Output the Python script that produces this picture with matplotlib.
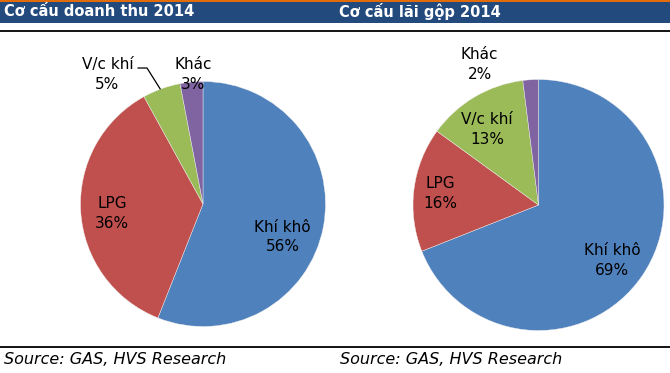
import matplotlib.pyplot as plt
import matplotlib.patches as mpatches

# data
categories = ['Khí khô', 'LPG', 'V/c khí', 'Khác']
revenue_2014 = [56, 36, 5, 3]
gross_profit_2014 = [69, 16, 13, 2]
titles = ['Cơ cấu doanh thu 2014', 'Cơ cấu lãi gộp 2014']
source = 'Source: GAS, HVS Research'

colors = ['#4F81BD', '#C0504D', '#9BBB59', '#8064A2']

W, H = 670, 373
fig = plt.figure(figsize=(W / 100, H / 100), dpi=100)
plt.rcParams['font.family'] = ['DejaVu Sans']


def px_axes(cx, cy, r):
    # axes box in figure fraction from pixel centre and radius
    return fig.add_axes([(cx - r) / W, 1 - (cy + r) / H, 2 * r / W, 2 * r / H])


# header bar, orange top line, black rules
bg = fig.add_axes([0, 0, 1, 1])
bg.set_xlim(0, W)
bg.set_ylim(H, 0)
bg.axis('off')
bg.add_patch(mpatches.Rectangle((0, 1.5), W, 21, color='#234A7D', lw=0))
bg.add_patch(mpatches.Rectangle((0, 0), W, 1.8, color='#E36C0A', lw=0))
bg.plot([0, W], [31, 31], color='black', lw=1.3)
bg.plot([0, W], [347, 347], color='black', lw=1.3)
bg.text(4, 12, titles[0], color='white', fontsize=10.5, fontweight='bold', va='center')
bg.text(339, 12, titles[1], color='white', fontsize=10.5, fontweight='bold', va='center')
bg.text(4, 359, source, fontsize=11.5, style='italic', va='center')
bg.text(340, 359, source, fontsize=11.5, style='italic', va='center')

panels = [
    (revenue_2014, (203, 204, 122.5),
     [(0.65, -0.27), (-0.74, -0.08), (-0.78, 1.06), (-0.08, 1.06)]),
    (gross_profit_2014, (538.5, 205, 125.5),
     [(0.585, -0.44), (-0.785, 0.09), (-0.41, 0.60), (-0.47, 1.12)]),
]

for i, (vals, (cx, cy, r), label_pos) in enumerate(panels):
    ax = px_axes(cx, cy, r)
    ax.pie(vals, colors=colors, startangle=90, counterclock=False, radius=1,
           wedgeprops=dict(linewidth=0.3, edgecolor='#F0F0F0'))
    ax.set_xlim(-1, 1)
    ax.set_ylim(-1, 1)
    ax.set_aspect('auto')
    ax.axis('off')
    for name, v, (x, y) in zip(categories, vals, label_pos):
        ax.text(x, y, f'{name}\n{v}%', ha='center', va='center', fontsize=11,
                linespacing=1.4, clip_on=False)
    if i == 0:
        # leader line for V/c khí
        ax.plot([-0.53, -0.457, -0.35], [1.11, 1.11, 0.94], color='black',
                lw=0.9, clip_on=False)

fig.savefig('out.png', dpi=100)
